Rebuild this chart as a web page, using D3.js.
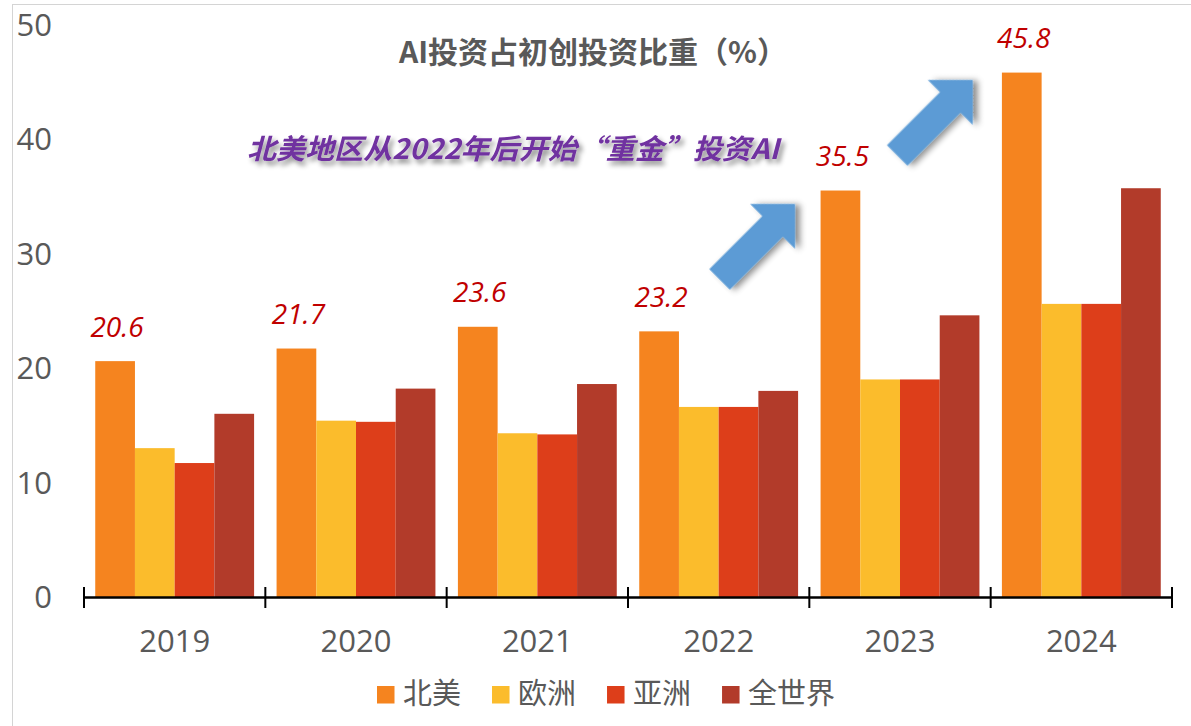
<!DOCTYPE html>
<html>
<head>
<meta charset="utf-8">
<script src="https://cdn.jsdelivr.net/npm/d3@7"></script>
<style>
  html, body { margin: 0; padding: 0; background: #fff; }
  svg { display: block; }
</style>
</head>
<body>
<svg id="chart" width="1191" height="726"></svg>
<script>
// ---- data ----
const years = ["2019", "2020", "2021", "2022", "2023", "2024"];
const seriesNames = ["北美", "欧洲", "亚洲", "全世界"];
const northAmerica = [20.6, 21.7, 23.6, 23.2, 35.5, 45.8];
const europe = [13.0, 15.4, 14.3, 16.6, 19.0, 25.6];
const asia = [11.7, 15.3, 14.2, 16.6, 19.0, 25.6];
const world = [16.0, 18.2, 18.6, 18.0, 24.6, 35.7];
const yTicks = [0, 10, 20, 30, 40, 50];
const seriesColors = ["#F5841F", "#FBBC2C", "#DD3E1A", "#B23B2A"];
const titleText = "AI投资占初创投资比重（%）";
const noteText = "北美地区从2022年后开始“重金”投资AI";

const seriesValues = [northAmerica, europe, asia, world];
const table = years.map((yr, i) => ({
  year: yr,
  values: seriesNames.map((s, j) => ({ key: s, value: seriesValues[j][i], color: seriesColors[j] }))
}));

// ---- layout ----
const W = 1191, H = 726;
const plot = { left: 84, right: 1172, top: 24.5, bottom: 597 };
const grey = "#595959";
const numFont = "'Open Sans', 'Noto Sans', sans-serif";
const cjkFont = "'Noto Sans CJK SC', 'Noto Sans', sans-serif";

const svg = d3.select("#chart");

// defs: shadow filters
const defs = svg.append("defs");
const f1 = defs.append("filter").attr("id", "arrowShadow")
  .attr("x", "-30%").attr("y", "-30%").attr("width", "160%").attr("height", "160%");
f1.append("feDropShadow").attr("dx", 3).attr("dy", 4).attr("stdDeviation", 3)
  .attr("flood-color", "#000").attr("flood-opacity", 0.45);
const f2 = defs.append("filter").attr("id", "textShadow")
  .attr("x", "-10%").attr("y", "-40%").attr("width", "120%").attr("height", "180%");
f2.append("feDropShadow").attr("dx", 3).attr("dy", 4).attr("stdDeviation", 2.5)
  .attr("flood-color", "#000").attr("flood-opacity", 0.45);

svg.append("rect").attr("width", W).attr("height", H).attr("fill", "#fff");
// frame
svg.append("rect").attr("x", 12.5).attr("y", 4.5).attr("width", W + 20).attr("height", H + 20)
  .attr("fill", "none").attr("stroke", "#d4d4d4").attr("stroke-width", 1);

// scales
const x0 = d3.scaleBand().domain(years).range([plot.left, plot.right]).paddingInner(0).paddingOuter(0);
const x1 = d3.scaleBand().domain(seriesNames).range([0, x0.bandwidth()]).paddingInner(0).paddingOuter(0.283);
const y = d3.scaleLinear().domain([0, 50]).range([plot.bottom, plot.top]);

// y-axis labels (no line)
const yAxis = d3.axisLeft(y).tickValues(yTicks).tickSize(0).tickPadding(0).tickFormat(d3.format("d"));
const yg = svg.append("g").attr("transform", `translate(52,0)`).call(yAxis);
yg.select(".domain").remove();
yg.selectAll("text").attr("font-family", numFont).attr("font-size", 31).attr("fill", grey).attr("dy", "0.34em");

// bars
const groups = svg.append("g").selectAll("g").data(table).join("g")
  .attr("transform", d => `translate(${x0(d.year)},0)`);
groups.selectAll("rect").data(d => d.values).join("rect")
  .attr("x", d => x1(d.key))
  .attr("y", d => y(d.value))
  .attr("width", x1.bandwidth())
  .attr("height", d => y(0) - y(d.value))
  .attr("fill", d => d.color);

// x axis
const xAxis = d3.axisBottom(x0).tickSize(0).tickPadding(0);
const xg = svg.append("g").attr("transform", `translate(0,${y(0)})`).call(xAxis);
xg.select(".domain").attr("stroke", "#000").attr("stroke-width", 2.5);
xg.selectAll("text").attr("font-family", numFont).attr("font-size", 31).attr("fill", grey)
  .attr("dy", 0).attr("y", 55);
// boundary tick marks
const boundaries = years.map(yr => x0(yr)).concat([x0(years[years.length - 1]) + x0.bandwidth()]);
xg.selectAll("line.bound").data(boundaries).join("line").attr("class", "bound")
  .attr("x1", d => d).attr("x2", d => d).attr("y1", -10).attr("y2", 11)
  .attr("stroke", "#000").attr("stroke-width", 2);

// data labels for North America
svg.append("g").selectAll("text").data(table).join("text")
  .attr("x", d => x0(d.year) + x1(seriesNames[0]) + x1.bandwidth() / 2 + 2)
  .attr("y", d => y(d.values[0].value) - 24.5)
  .attr("text-anchor", "middle")
  .attr("font-family", numFont).attr("font-style", "italic").attr("font-size", 28)
  .attr("fill", "#C00000")
  .text(d => d3.format(".1f")(d.values[0].value));

// title
svg.append("text").attr("x", 593).attr("y", 63).attr("text-anchor", "middle")
  .attr("font-family", cjkFont).attr("font-weight", "bold").attr("font-size", 30)
  .attr("fill", grey).text(titleText);

// annotation text
svg.append("text").attr("x", 247).attr("y", 159)
  .attr("font-family", cjkFont).attr("font-weight", "bold").attr("font-style", "italic")
  .attr("font-size", 28).attr("fill", "#7030A0")
  .attr("textLength", 532).attr("lengthAdjust", "spacingAndGlyphs")
  .attr("filter", "url(#textShadow)")
  .text(noteText);

// arrows (tip positions)
const arrowTips = [[795, 204], [972.7, 80]];
const head = 31.7, halfShaft = 14.5, shaftLen = 75;
const arrowPath = d3.path();
arrowPath.moveTo(0, 0);
arrowPath.lineTo(-head, -head);
arrowPath.lineTo(-head, -halfShaft);
arrowPath.lineTo(-head - shaftLen, -halfShaft);
arrowPath.lineTo(-head - shaftLen, halfShaft);
arrowPath.lineTo(-head, halfShaft);
arrowPath.lineTo(-head, head);
arrowPath.closePath();
svg.append("g").selectAll("path").data(arrowTips).join("path")
  .attr("d", arrowPath.toString())
  .attr("transform", d => `translate(${d[0]},${d[1]}) rotate(-45)`)
  .attr("fill", "#5B9BD5")
  .attr("filter", "url(#arrowShadow)");

// legend
const legend = svg.append("g");
let lx = 377;
seriesNames.forEach((name, i) => {
  legend.append("rect").attr("x", lx).attr("y", 686).attr("width", 17.5).attr("height", 17.5)
    .attr("fill", seriesColors[i]);
  const t = legend.append("text").attr("x", lx + 26).attr("y", 704)
    .attr("font-family", cjkFont).attr("font-size", 29).attr("fill", grey).text(name);
  const w = t.node().getComputedTextLength();
  lx = lx + 26 + w + 31;
});
</script>
</body>
</html>
